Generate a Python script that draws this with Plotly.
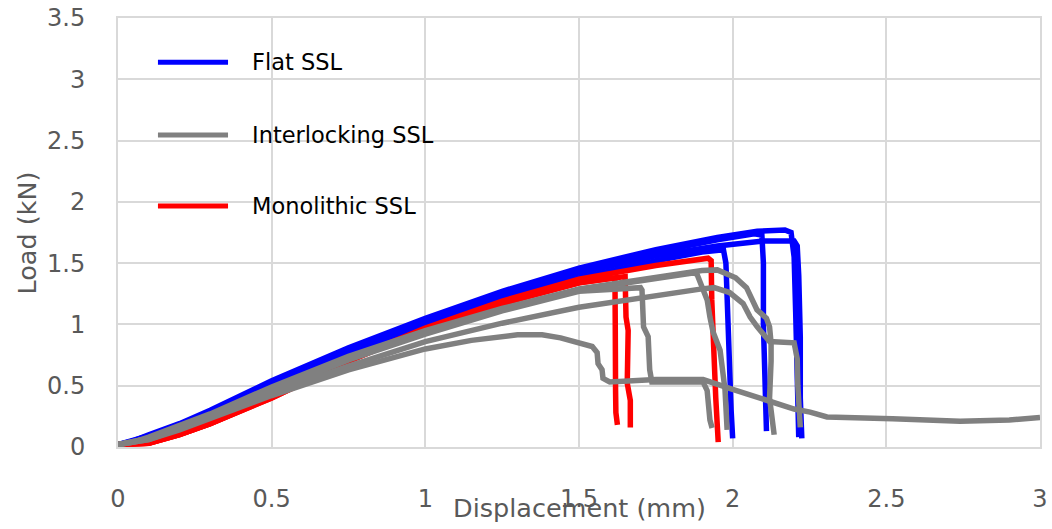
import plotly.graph_objects as go

# ---- Flat SSL specimens (blue) ----
flat_1_x = [0, 0.05, 0.1, 0.2, 0.3, 0.5, 0.75, 1.0, 1.25, 1.5, 1.75, 1.9, 1.97, 1.978, 1.982, 1.988, 1.995, 2.0]
flat_1_y = [0.02, 0.04, 0.08, 0.17, 0.27, 0.51, 0.76, 0.99, 1.20, 1.38, 1.52, 1.59, 1.61, 1.5, 1.15, 0.7, 0.3, 0.07]

flat_2_x = [0, 0.05, 0.1, 0.2, 0.3, 0.5, 0.75, 1.0, 1.25, 1.5, 1.75, 1.95, 2.07, 2.095, 2.1, 2.1, 2.105, 2.11]
flat_2_y = [0.02, 0.05, 0.09, 0.18, 0.29, 0.53, 0.79, 1.03, 1.25, 1.44, 1.59, 1.69, 1.74, 1.73, 1.5, 1.0, 0.5, 0.13]

flat_3_x = [0, 0.05, 0.1, 0.2, 0.3, 0.5, 0.75, 1.0, 1.25, 1.5, 1.75, 1.95, 2.08, 2.17, 2.19, 2.2, 2.205, 2.21, 2.215]
flat_3_y = [0.02, 0.05, 0.1, 0.19, 0.30, 0.54, 0.81, 1.05, 1.27, 1.46, 1.61, 1.71, 1.76, 1.77, 1.75, 1.55, 1.1, 0.6, 0.08]

flat_4_x = [0, 0.05, 0.1, 0.2, 0.3, 0.5, 0.75, 1.0, 1.25, 1.5, 1.75, 1.95, 2.1, 2.2, 2.21, 2.215, 2.22, 2.22, 2.225]
flat_4_y = [0.02, 0.04, 0.09, 0.18, 0.28, 0.52, 0.78, 1.02, 1.23, 1.42, 1.56, 1.64, 1.68, 1.68, 1.64, 1.4, 0.9, 0.4, 0.07]

# ---- Monolithic SSL specimens (red) ----
mono_1_x = [0, 0.05, 0.1, 0.2, 0.3, 0.5, 0.75, 1.0, 1.25, 1.5, 1.6, 1.617, 1.618, 1.62, 1.619, 1.62, 1.625]
mono_1_y = [0.02, 0.02, 0.03, 0.10, 0.19, 0.40, 0.70, 0.96, 1.17, 1.34, 1.38, 1.38, 0.98, 0.79, 0.46, 0.28, 0.18]

mono_2_x = [0, 0.05, 0.1, 0.2, 0.3, 0.5, 0.75, 1.0, 1.25, 1.5, 1.64, 1.65, 1.653, 1.66, 1.657, 1.667, 1.667]
mono_2_y = [0.02, 0.02, 0.03, 0.10, 0.19, 0.40, 0.70, 0.96, 1.17, 1.34, 1.39, 1.39, 1.06, 0.95, 0.52, 0.38, 0.16]

mono_3_x = [0, 0.05, 0.1, 0.2, 0.3, 0.5, 0.75, 1.0, 1.25, 1.5, 1.75, 1.92, 1.93, 1.932, 1.936, 1.945, 1.953]
mono_3_y = [0.02, 0.02, 0.03, 0.10, 0.19, 0.41, 0.71, 0.97, 1.19, 1.37, 1.48, 1.54, 1.52, 1.2, 0.85, 0.4, 0.04]

# ---- Interlocking SSL specimens (grey) ----
inter_1_x = [0, 0.05, 0.1, 0.2, 0.3, 0.5, 0.75, 0.92, 1.0, 1.15, 1.3, 1.38, 1.44, 1.543, 1.559, 1.562,
             1.575, 1.578, 1.60, 1.75, 1.904, 2.0, 2.1, 2.2, 2.252, 2.284, 2.307, 2.52, 2.74, 2.9, 3.0]
inter_1_y = [0.02, 0.04, 0.06, 0.14, 0.23, 0.42, 0.63, 0.75, 0.80, 0.87, 0.915, 0.915, 0.89, 0.82, 0.77, 0.68,
             0.63, 0.56, 0.53, 0.55, 0.55, 0.47, 0.39, 0.31, 0.285, 0.26, 0.245, 0.23, 0.21, 0.22, 0.24]

inter_2_x = [0, 0.05, 0.1, 0.2, 0.3, 0.5, 0.75, 1.0, 1.25, 1.5, 1.6, 1.70, 1.705, 1.71, 1.725, 1.73,
             1.737, 1.8, 1.9, 1.904, 1.917, 1.926, 1.933]
inter_2_y = [0.02, 0.04, 0.07, 0.16, 0.26, 0.47, 0.71, 0.92, 1.11, 1.27, 1.29, 1.30, 1.28, 0.98, 0.90, 0.63,
             0.53, 0.53, 0.54, 0.53, 0.46, 0.22, 0.155]

inter_3_x = [0, 0.05, 0.1, 0.2, 0.3, 0.5, 0.75, 1.0, 1.25, 1.5, 1.75, 1.9, 1.95, 2.01, 2.045, 2.063,
             2.079, 2.11, 2.12, 2.125, 2.125, 2.12, 2.135]
inter_3_y = [0.02, 0.04, 0.08, 0.17, 0.27, 0.49, 0.74, 0.95, 1.13, 1.29, 1.39, 1.44, 1.445, 1.38, 1.30, 1.20,
             1.12, 1.05, 0.98, 0.85, 0.70, 0.4, 0.1]

inter_4_x = [0, 0.05, 0.1, 0.2, 0.3, 0.5, 0.75, 1.0, 1.25, 1.5, 1.75, 1.90, 1.94, 1.99, 2.034, 2.057,
             2.08, 2.12, 2.2, 2.21, 2.212, 2.215, 2.22]
inter_4_y = [0.02, 0.04, 0.06, 0.15, 0.24, 0.44, 0.66, 0.86, 1.01, 1.14, 1.24, 1.29, 1.30, 1.26, 1.17, 1.06,
             0.98, 0.86, 0.85, 0.72, 0.5, 0.3, 0.16]

inter_5_x = [0, 0.05, 0.1, 0.2, 0.3, 0.5, 0.75, 1.0, 1.25, 1.5, 1.75, 1.87, 1.884, 1.917, 1.926, 1.936,
             1.959, 1.969, 1.975, 1.982]
inter_5_y = [0.02, 0.04, 0.07, 0.16, 0.26, 0.48, 0.73, 0.94, 1.12, 1.28, 1.38, 1.42, 1.41, 1.2, 1.06, 0.94,
             0.79, 0.63, 0.47, 0.14]

# ---- Legend entries ----
legend_labels = ["Flat SSL", "Interlocking SSL", "Monolithic SSL"]
legend_colors = ["#0000FF", "#808080", "#FF0000"]
legend_levels = [3.14, 2.545, 1.966]

x_ticks = [0, 0.5, 1, 1.5, 2, 2.5, 3]
y_ticks = [0, 0.5, 1, 1.5, 2, 2.5, 3, 3.5]

series = [
    (flat_1_x, flat_1_y, "#0000FF"),
    (flat_2_x, flat_2_y, "#0000FF"),
    (flat_3_x, flat_3_y, "#0000FF"),
    (flat_4_x, flat_4_y, "#0000FF"),
    (mono_1_x, mono_1_y, "#FF0000"),
    (mono_2_x, mono_2_y, "#FF0000"),
    (mono_3_x, mono_3_y, "#FF0000"),
    (inter_1_x, inter_1_y, "#808080"),
    (inter_2_x, inter_2_y, "#808080"),
    (inter_3_x, inter_3_y, "#808080"),
    (inter_4_x, inter_4_y, "#808080"),
    (inter_5_x, inter_5_y, "#808080"),
]

fig = go.Figure()
for xs, ys, col in series:
    fig.add_trace(go.Scatter(x=xs, y=ys, mode="lines",
                             line=dict(color=col, width=5.5),
                             showlegend=False, hoverinfo="skip"))

FONT = "DejaVu Sans"
GREY_TXT = "#595959"
GRID = "#d9d9d9"

# in-plot legend: short line samples and labels
shapes = []
annotations = []
for lab, col, lvl in zip(legend_labels, legend_colors, legend_levels):
    shapes.append(dict(type="line", xref="x", yref="y", x0=0.13, x1=0.358, y0=lvl, y1=lvl,
                       line=dict(color=col, width=5)))
    annotations.append(dict(text=lab, xref="x", yref="y", x=0.43, y=lvl, xanchor="left",
                            yanchor="middle", showarrow=False,
                            font=dict(family=FONT, size=22.5, color="#000000")))

# axis titles
annotations.append(dict(text="Displacement (mm)", xref="paper", yref="paper", x=0.5, y=-0.142,
                        xanchor="center", yanchor="middle", showarrow=False,
                        font=dict(family=FONT, size=25.5, color=GREY_TXT)))
annotations.append(dict(text="Load (kN)", xref="paper", yref="paper", x=-0.0987, y=0.5,
                        xanchor="center", yanchor="middle", textangle=-90, showarrow=False,
                        font=dict(family=FONT, size=25.5, color=GREY_TXT)))

fig.update_layout(
    width=1052, height=529,
    margin=dict(l=118, r=12, t=18, b=82, autoexpand=False),
    plot_bgcolor="white", paper_bgcolor="white",
    shapes=shapes, annotations=annotations,
    xaxis=dict(range=[0, 3], tickvals=x_ticks, showgrid=True, gridcolor=GRID, gridwidth=2,
               zeroline=False, showline=True, linecolor=GRID, linewidth=2, mirror=True,
               automargin=False,
               tickfont=dict(family=FONT, size=24, color=GREY_TXT), ticklabelstandoff=29),
    yaxis=dict(range=[0, 3.5], tickvals=y_ticks, showgrid=True, gridcolor=GRID, gridwidth=2,
               zeroline=False, showline=True, linecolor=GRID, linewidth=2, mirror=True,
               automargin=False,
               tickfont=dict(family=FONT, size=24, color=GREY_TXT), ticklabelstandoff=26),
)

fig.write_html("out.html")
